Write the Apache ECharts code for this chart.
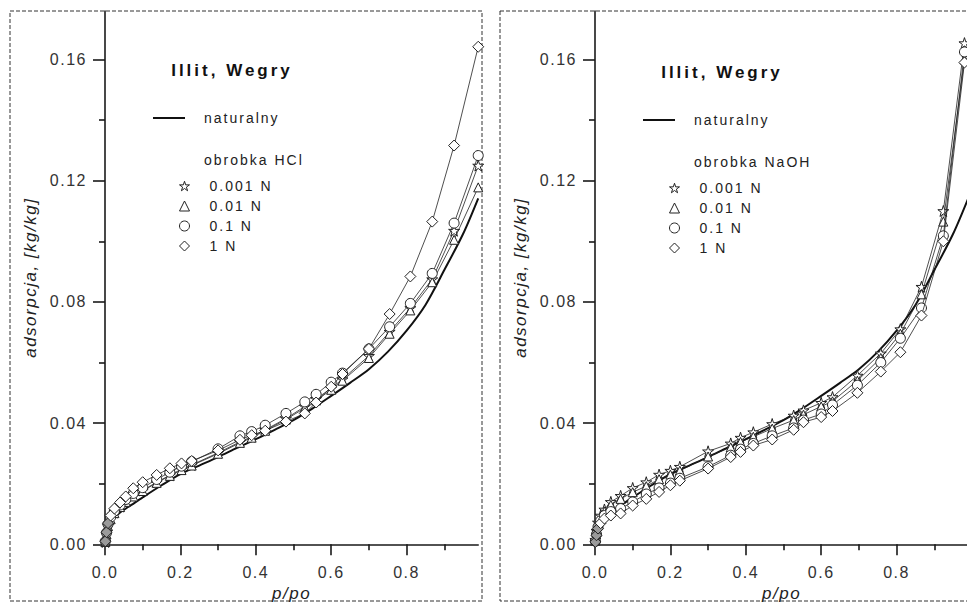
<!DOCTYPE html>
<html>
<head>
<meta charset="utf-8">
<script src="https://cdn.jsdelivr.net/npm/echarts@6/dist/echarts.min.js"></script>
<style>
  html, body { margin: 0; padding: 0; background: #fff; }
  #chart { width: 967px; height: 605px; letter-spacing: 1.5px; }
  #chart text[style*="14px"] { letter-spacing: 2px; }
  #chart text[style*="bold"], #chart text[font-weight="bold"] { letter-spacing: 3px; }
</style>
</head>
<body>
<div id="chart"></div>
<script>
// ---- data: adsorption isotherms of illite (Hungary), a [kg/kg] vs p/po ----

// untreated sample (same curve in both panels)
const naturalP = [0, 0.003, 0.01, 0.02, 0.04, 0.07, 0.1, 0.15, 0.2, 0.25, 0.3, 0.35, 0.4, 0.45, 0.5, 0.55, 0.6, 0.65, 0.7, 0.75, 0.8, 0.85, 0.9, 0.95, 0.99];
const naturalA = [0, 0.0035, 0.006, 0.008, 0.0105, 0.013, 0.0155, 0.0195, 0.0232, 0.026, 0.0288, 0.0318, 0.0347, 0.0378, 0.041, 0.0448, 0.049, 0.0533, 0.0578, 0.0635, 0.0705, 0.079, 0.0905, 0.1025, 0.1142];

// HCl treatment
const hclP = [0.001, 0.004, 0.008, 0.015, 0.025, 0.04, 0.055, 0.075, 0.1, 0.137, 0.172, 0.203, 0.23, 0.30, 0.358, 0.389, 0.425, 0.48, 0.53, 0.56, 0.60, 0.63, 0.70, 0.755, 0.81, 0.868, 0.926, 0.99];
const hcl0001 = [0.0008, 0.0035, 0.0062, 0.0085, 0.0105, 0.0125, 0.0142, 0.016, 0.0178, 0.0205, 0.0228, 0.0248, 0.0262, 0.0302, 0.0338, 0.0355, 0.0378, 0.0415, 0.0455, 0.048, 0.0515, 0.0545, 0.0622, 0.0702, 0.078, 0.0875, 0.1035, 0.125];
const hcl001 = [0.0008, 0.0033, 0.006, 0.0083, 0.0103, 0.0123, 0.014, 0.0158, 0.0176, 0.0203, 0.0226, 0.0245, 0.026, 0.0299, 0.0335, 0.0352, 0.0375, 0.0412, 0.045, 0.0475, 0.051, 0.054, 0.0615, 0.0695, 0.0772, 0.0865, 0.1005, 0.1178];
const hcl01 = [0.001, 0.0038, 0.0066, 0.009, 0.011, 0.013, 0.0148, 0.0168, 0.0187, 0.0214, 0.0238, 0.0258, 0.0273, 0.0315, 0.0358, 0.0372, 0.0393, 0.0432, 0.047, 0.0495, 0.0535, 0.0565, 0.0645, 0.0718, 0.0795, 0.0894, 0.106, 0.1283];
const hcl1 = [0.001, 0.004, 0.007, 0.0095, 0.0118, 0.0138, 0.0158, 0.0185, 0.0205, 0.0229, 0.0251, 0.0267, 0.0275, 0.031, 0.0345, 0.036, 0.0375, 0.0405, 0.0432, 0.0468, 0.052, 0.0562, 0.0645, 0.076, 0.0884, 0.1065, 0.1316, 0.1642];

// NaOH treatment
const naohP = [0.001, 0.004, 0.008, 0.015, 0.025, 0.042, 0.068, 0.1, 0.136, 0.17, 0.2, 0.225, 0.30, 0.36, 0.386, 0.42, 0.47, 0.527, 0.553, 0.60, 0.63, 0.696, 0.758, 0.81, 0.866, 0.924, 0.98];
const naoh0001 = [0.0015, 0.0045, 0.0072, 0.0095, 0.0115, 0.014, 0.016, 0.0186, 0.0205, 0.023, 0.0243, 0.0256, 0.0307, 0.0333, 0.0352, 0.037, 0.0397, 0.0425, 0.0442, 0.0467, 0.0486, 0.0557, 0.063, 0.071, 0.085, 0.110, 0.1654];
const naoh001 = [0.0012, 0.004, 0.0066, 0.0088, 0.0108, 0.013, 0.015, 0.0172, 0.0192, 0.0215, 0.023, 0.0243, 0.029, 0.032, 0.0338, 0.0355, 0.0382, 0.041, 0.0428, 0.0455, 0.0472, 0.054, 0.0615, 0.0695, 0.0825, 0.1065, 0.160];
const naoh01 = [0.001, 0.0033, 0.0058, 0.0078, 0.0095, 0.0108, 0.0118, 0.014, 0.0166, 0.0186, 0.0202, 0.0218, 0.0256, 0.0294, 0.0314, 0.0333, 0.0358, 0.0384, 0.041, 0.043, 0.046, 0.0525, 0.060, 0.068, 0.078, 0.1018, 0.1625];
const naoh1 = [0.0008, 0.003, 0.0052, 0.007, 0.0085, 0.0095, 0.0102, 0.0128, 0.015, 0.0173, 0.0195, 0.021, 0.025, 0.0288, 0.0305, 0.0326, 0.0346, 0.0378, 0.0403, 0.042, 0.044, 0.050, 0.057, 0.0634, 0.0755, 0.100, 0.159];

// axes and labels
const xTicks = [0, 0.2, 0.4, 0.6, 0.8];
const xMinorTicks = [0.1, 0.3, 0.5, 0.7, 0.9];
const yTicks = [0, 0.04, 0.08, 0.12, 0.16];
const yMinorTicks = [0.02, 0.06, 0.10, 0.14];
const xMax = 0.99;
const yMax = 0.176;
const panelTitle = 'Illit, Wegry';
const naturalName = 'naturalny';
const treatmentNames = ['0.001 N', '0.01 N', '0.1 N', '1 N'];
const treatmentHeadings = ['obrobka HCl', 'obrobka NaOH'];
const xName = 'p/po';
const yName = 'adsorpcja, [kg/kg]';

// ---- chart ----
const FONT = '"Liberation Sans", Arial, Helvetica, sans-serif';
const INK = '#1a1a1a';
const STAR = 'path://M50 0 L61.2 34.5 L97.6 34.5 L68.2 55.9 L79.4 90.5 L50 69.1 L20.6 90.5 L31.8 55.9 L2.4 34.5 L38.8 34.5 Z';
const SYMBOLS = [STAR, 'triangle', 'circle', 'diamond'];
const SYMBOL_SIZES = [11, 9, 10, 11];

const panels = [
  { p: hclP, sets: [hcl0001, hcl001, hcl01, hcl1], heading: treatmentHeadings[0], ox: 0, oy: 0 },
  { p: naohP, sets: [naoh0001, naoh001, naoh01, naoh1], heading: treatmentHeadings[1], ox: 490, oy: 2 }
];

const zip = (xs, ys) => xs.map((x, i) => [x, ys[i]]);

const grids = [], xAxes = [], yAxes = [], series = [], legends = [], graphics = [];

panels.forEach((pn, gi) => {
  const gx = 105 + pn.ox;
  grids.push({ left: gx, top: 11, width: 377 * xMax, height: 3030.3 * yMax, outerBoundsMode: 'none', containLabel: false });

  const axisLineStyle = { color: INK, width: 1.6 };
  // main axes: line, major ticks, labels, name
  xAxes.push({
    type: 'value', gridIndex: gi, min: 0, max: xMax, position: 'bottom',
    name: xName, nameLocation: 'middle', nameGap: 41,
    nameTextStyle: { fontFamily: FONT, fontSize: 17, fontStyle: 'italic', color: '#222' },
    axisLine: { show: true, onZero: false, lineStyle: axisLineStyle },
    axisTick: { show: true, length: 11, customValues: xTicks, lineStyle: axisLineStyle },
    axisLabel: { customValues: xTicks, margin: 20, fontFamily: FONT, fontSize: 16, color: '#333', formatter: v => v.toFixed(1) },
    splitLine: { show: false }
  });
  // minor ticks
  xAxes.push({
    type: 'value', gridIndex: gi, min: 0, max: xMax, position: 'bottom',
    axisLine: { show: false, onZero: false },
    axisTick: { show: true, length: 6, customValues: xMinorTicks, lineStyle: axisLineStyle },
    axisLabel: { show: false }, splitLine: { show: false }
  });
  yAxes.push({
    type: 'value', gridIndex: gi, min: 0, max: yMax, position: 'left',
    name: yName, nameLocation: 'middle', nameGap: 66,
    nameTextStyle: { fontFamily: FONT, fontSize: 17, fontStyle: 'italic', color: '#222' },
    axisLine: { show: true, onZero: false, lineStyle: axisLineStyle },
    axisTick: { show: true, length: 12, customValues: yTicks, lineStyle: axisLineStyle },
    axisLabel: { customValues: yTicks, margin: 18, fontFamily: FONT, fontSize: 16, color: '#333', formatter: v => v.toFixed(2) },
    splitLine: { show: false }
  });
  yAxes.push({
    type: 'value', gridIndex: gi, min: 0, max: yMax, position: 'left',
    axisLine: { show: false, onZero: false },
    axisTick: { show: true, length: 6, customValues: yMinorTicks, lineStyle: axisLineStyle },
    axisLabel: { show: false }, splitLine: { show: false }
  });

  // untreated sample: heavy smooth line
  series.push({
    type: 'line', name: naturalName, xAxisIndex: gi * 2, yAxisIndex: gi * 2,
    data: zip(naturalP, naturalA), symbol: 'none', smooth: 0.3,
    lineStyle: { color: '#111', width: 2 }, z: 2
  });
  // treated samples: thin lines with hollow markers
  pn.sets.forEach((vals, k) => {
    series.push({
      type: 'line', name: treatmentNames[k], xAxisIndex: gi * 2, yAxisIndex: gi * 2,
      data: zip(pn.p, vals).map(d => d[0] < 0.01
        ? { value: d, itemStyle: { color: '#9a9a9a' } }
        : d),
      symbol: SYMBOLS[k], symbolSize: SYMBOL_SIZES[k], showSymbol: true,
      lineStyle: { color: '#222', width: 0.8 },
      itemStyle: { color: '#fff', borderColor: '#222', borderWidth: 1 },
      z: 3 + k
    });
  });

  // legend of the treatments
  legends.push({
    orient: 'vertical', left: 174 + pn.ox, top: 174 + pn.oy,
    itemWidth: 10, itemHeight: 10, itemGap: 6, selectedMode: false,
    data: treatmentNames.map((n, k) => ({ name: n, icon: SYMBOLS[k] })),
    itemStyle: { color: '#fff', borderColor: '#222', borderWidth: 1 },
    textStyle: { fontFamily: FONT, fontSize: 14, lineHeight: 14, color: '#222', padding: [0, 0, 0, 15] }
  });

  // dashed frame around the panel
  graphics.push({
    type: 'rect', silent: true, z: -1,
    shape: gi === 0 ? { x: 10, y: 11, width: 472, height: 590 } : { x: 500, y: 11, width: 480, height: 590 },
    style: { fill: 'none', stroke: '#333', lineWidth: 1, lineDash: [4, 2] }
  });
  // panel title
  graphics.push({
    type: 'text', silent: true, x: 232 + pn.ox, y: 70 + pn.oy,
    style: { text: panelTitle, font: 'bold 17px ' + FONT, fill: '#111', textAlign: 'center', textVerticalAlign: 'middle', verticalAlign: 'middle' }
  });
  // legend entry of the untreated sample
  graphics.push({
    type: 'line', silent: true,
    shape: { x1: 153 + pn.ox, y1: 118 + pn.oy, x2: 185 + pn.ox, y2: 118 + pn.oy },
    style: { stroke: '#111', lineWidth: 2 }
  });
  graphics.push({
    type: 'text', silent: true, x: 204 + pn.ox, y: 118 + pn.oy,
    style: { text: naturalName, font: '14px ' + FONT, fill: '#222', textAlign: 'left', textVerticalAlign: 'middle', verticalAlign: 'middle' }
  });
  graphics.push({
    type: 'text', silent: true, x: 204 + pn.ox, y: 160 + pn.oy,
    style: { text: pn.heading, font: '14px ' + FONT, fill: '#222', textAlign: 'left', textVerticalAlign: 'middle', verticalAlign: 'middle' }
  });
});

const chart = echarts.init(document.getElementById('chart'), null, { renderer: 'svg' });
chart.setOption({
  animation: false,
  backgroundColor: '#fff',
  grid: grids,
  xAxis: xAxes,
  yAxis: yAxes,
  legend: legends,
  series: series,
  graphic: graphics
});
</script>
</body>
</html>
